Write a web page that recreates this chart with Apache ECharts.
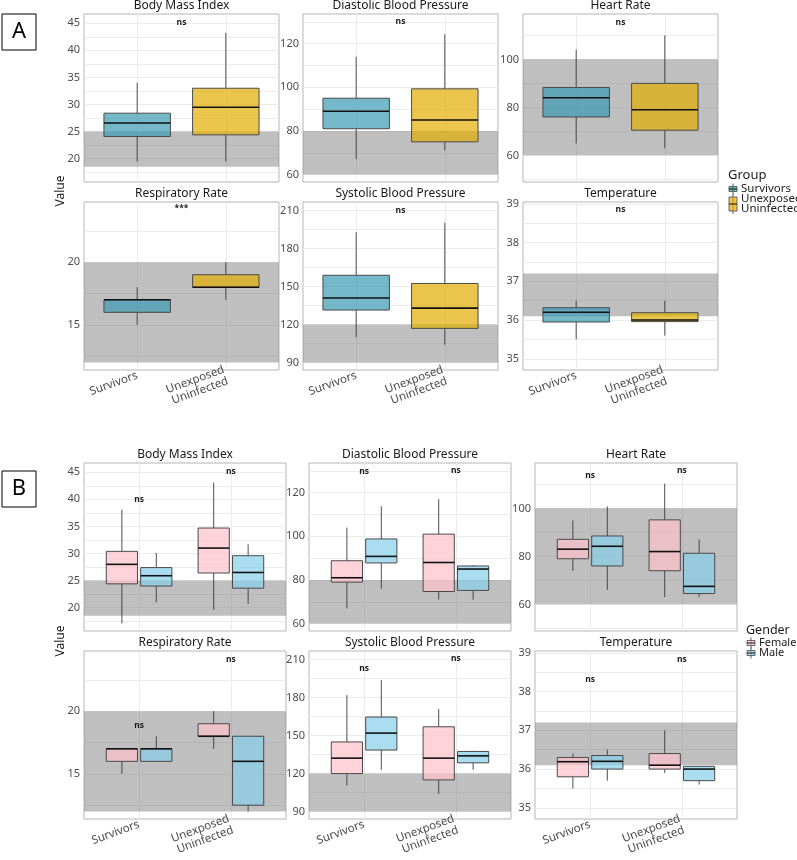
<!DOCTYPE html>
<html>
<head>
<meta charset="UTF-8">
<title>Vital signs by group and gender</title>
<script src="https://cdn.jsdelivr.net/npm/echarts@6/dist/echarts.min.js"></script>
<style>
    html, body { margin: 0; padding: 0; background: #fff; }
    #main { width: 797px; height: 860px; }
</style>
</head>
<body>
<div id="main"></div>
<script>
var groups = ['Survivors', 'Unexposed\nUninfected'];
var genders = ['Female', 'Male'];
var vitals = ['Body Mass Index', 'Diastolic Blood Pressure', 'Heart Rate',
    'Respiratory Rate', 'Systolic Blood Pressure', 'Temperature'];

// shaded normal range per vital
var normalRanges = [[18.5, 25], [60, 80], [60, 100], [12, 20], [90, 120], [36.1, 37.2]];
// y range per vital
var yRanges = [[15.7, 46.7], [56.6, 133.6], [48.9, 118.9], [11.4, 24.8], [84.1, 216.9], [34.71, 39.05]];
var yMajor = [[20, 25, 30, 35, 40, 45], [60, 80, 100, 120], [60, 80, 100], [15, 20],
    [90, 120, 150, 180, 210], [35, 36, 37, 38, 39]];
var yMinor = [[17.5, 22.5, 27.5, 32.5, 37.5, 42.5], [70, 90, 110, 130], [50, 70, 90, 110],
    [12.5, 17.5, 22.5], [105, 135, 165, 195], [35.5, 36.5, 37.5, 38.5]];

// A: [min, Q1, median, Q3, max]
var survivorsA = [
    [19.5, 24.1, 26.6, 28.4, 34.0],
    [67, 81, 89, 95, 114],
    [65, 76, 84, 88.3, 104],
    [15, 16, 17, 17, 18],
    [110, 131.5, 141, 159, 193],
    [35.5, 35.95, 36.2, 36.32, 36.5]
];
var unexposedA = [
    [19.5, 24.4, 29.5, 33, 43.2],
    [71, 75, 85, 99.3, 124.3],
    [63, 70.5, 79, 90, 110],
    [17, 18, 18, 19, 20],
    [104, 117, 133, 152.5, 200.5],
    [35.6, 35.96, 36.0, 36.19, 36.5]
];
var sigA = ['ns', 'ns', 'ns', '***', 'ns', 'ns'];
var sigAy = [45.2, 130, 115.5, 24.25, 210.2, 38.86];

// B: [min, Q1, median, Q3, max]
var femaleSurvB = [
    [17.1, 24.4, 28.0, 30.4, 38.1],
    [67, 79, 81, 88.8, 104],
    [74, 79, 83, 87.1, 95],
    [15, 16, 17, 17, 17],
    [110.6, 120, 132.2, 145, 182],
    [35.5, 35.8, 36.19, 36.3, 36.4]
];
var maleSurvB = [
    [21, 24, 25.9, 27.4, 30.1],
    [76, 87.8, 90.8, 98.8, 113.8],
    [66, 76, 84.2, 88.5, 100.8],
    [16, 16, 17, 17, 18],
    [123, 138.6, 152, 164.7, 194],
    [35.7, 36.0, 36.2, 36.35, 36.5]
];
var femaleUnexpB = [
    [19.6, 26.4, 31, 34.7, 43.1],
    [71, 74.7, 88, 101, 117],
    [63, 74, 82, 95.2, 110.3],
    [17, 18, 18, 19, 20],
    [104, 115, 132.2, 157, 171],
    [35.9, 36.0, 36.1, 36.4, 37.0]
];
var maleUnexpB = [
    [20.7, 23.6, 26.5, 29.6, 31.7],
    [71, 75.2, 85, 86.4, 86.8],
    [63, 64.5, 67.5, 81.3, 87],
    [12, 12.5, 16, 18, 18],
    [123, 128.5, 134, 137.5, 138],
    [35.6, 35.7, 36.0, 36.07, 36.08]
];
var sigBSurvY = [39.9, 129.5, 113.5, 18.86, 203.4, 38.31];
var sigBUnexpY = [45.2, 130.2, 115.7, 24.1, 210.8, 38.84];

var groupColors = ['rgba(59,154,178,0.7)', 'rgba(225,175,0,0.7)'];
var genderColors = ['rgba(255,192,203,0.7)', 'rgba(135,206,235,0.7)'];

var FONT = 'Noto Sans';
var layoutA = { lefts: [84, 303, 523], width: 195, tops: [14, 202], height: 168 };
var layoutB = { lefts: [84, 309, 535], width: 202, tops: [463, 651], height: 168 };

var grids = [], xAxes = [], yAxes = [], series = [], graphics = [];

function boxRenderer(width, color) {
    return function (params, api) {
        var x = api.value(0);
        var lo = api.coord([x, api.value(1)]);
        var q1 = api.coord([x, api.value(2)]);
        var md = api.coord([x, api.value(3)]);
        var q3 = api.coord([x, api.value(4)]);
        var hi = api.coord([x, api.value(5)]);
        var w = api.size([width, 0])[0];
        var cx = md[0];
        var edge = { stroke: '#3a3a3a', lineWidth: 0.9 };
        return {
            type: 'group',
            children: [
                { type: 'line', shape: { x1: cx, y1: hi[1], x2: cx, y2: q3[1] }, style: edge },
                { type: 'line', shape: { x1: cx, y1: q1[1], x2: cx, y2: lo[1] }, style: edge },
                {
                    type: 'rect',
                    shape: { x: cx - w / 2, y: q3[1], width: w, height: Math.max(q1[1] - q3[1], 0.5) },
                    style: { fill: color, stroke: '#4a4a4a', lineWidth: 1 }
                },
                { type: 'line', shape: { x1: cx - w / 2, y1: md[1], x2: cx + w / 2, y2: md[1] },
                  style: { stroke: '#111', lineWidth: 1.6 } }
            ]
        };
    };
}

function bandRenderer(params, api) {
    var cs = params.coordSys;
    var top = api.coord([1, api.value(1)])[1];
    var bottom = api.coord([1, api.value(0)])[1];
    return {
        type: 'rect',
        shape: { x: cs.x, y: top, width: cs.width, height: bottom - top },
        style: { fill: 'rgba(127,127,127,0.5)' }
    };
}

function textRenderer(labels) {
    return function (params, api) {
        var p = api.coord([api.value(0), api.value(1)]);
        return {
            type: 'text',
            style: {
                text: labels[params.dataIndex], x: p[0], y: p[1],
                align: 'center', verticalAlign: 'middle',
                font: 'bold 8.5px "' + FONT + '"', fill: '#1a1a1a'
            }
        };
    };
}

function addPanel(k, layout, boxes, sigs) {
    var row = Math.floor(k / 3), col = k % 3;
    var idx = grids.length;
    var left = layout.lefts[col], top = layout.tops[row];
    grids.push({
        left: left, top: top, width: layout.width, height: layout.height,
        show: true, borderColor: '#b5b5b5', borderWidth: 1
    });
    xAxes.push({
        gridIndex: idx, type: 'value', min: 0.4, max: 2.6,
        axisLine: { show: false },
        axisTick: { show: false, customValues: [1, 2] },
        axisLabel: {
            show: row === 1, customValues: [1, 2], rotate: 20, margin: 5,
            fontFamily: FONT, fontSize: 11.5, color: '#4d4d4d', lineHeight: 12,
            formatter: function (v) { return groups[Math.round(v) - 1]; }
        },
        splitLine: { show: true, lineStyle: { color: '#ebebeb', width: 1 } }
    });
    yAxes.push({
        gridIndex: idx, type: 'value', min: yRanges[k][0], max: yRanges[k][1],
        axisLine: { show: false },
        axisTick: { show: false, customValues: yMajor[k].concat(yMinor[k]) },
        axisLabel: {
            customValues: yMajor[k], margin: 4,
            fontFamily: FONT, fontSize: 11, color: '#4d4d4d'
        },
        splitLine: { show: true, lineStyle: { color: '#ebebeb', width: 1 } }
    });
    series.push({
        type: 'custom', xAxisIndex: idx, yAxisIndex: idx, z: 1, silent: true,
        renderItem: bandRenderer, encode: { y: [0, 1] },
        data: [normalRanges[k]]
    });
    boxes.forEach(function (b) {
        series.push({
            type: 'custom', xAxisIndex: idx, yAxisIndex: idx, z: 2, silent: true,
            renderItem: boxRenderer(b.width, b.color),
            encode: { x: 0, y: [1, 2, 3, 4, 5] },
            data: [[b.x].concat(b.values)]
        });
    });
    series.push({
        type: 'custom', xAxisIndex: idx, yAxisIndex: idx, z: 3, silent: true,
        renderItem: textRenderer(sigs.map(function (s) { return s.text; })),
        encode: { x: 0, y: 1 },
        data: sigs.map(function (s) { return [s.x, s.y]; })
    });
    graphics.push({
        type: 'text', x: left + layout.width / 2, y: top - 8,
        style: { text: vitals[k], align: 'center', verticalAlign: 'middle',
                 font: '12px "' + FONT + '"', fill: '#1a1a1a' }
    });
}

for (var k = 0; k < vitals.length; k++) {
    addPanel(k, layoutA, [
        { x: 1, width: 0.75, color: groupColors[0], values: survivorsA[k] },
        { x: 2, width: 0.75, color: groupColors[1], values: unexposedA[k] }
    ], [{ x: 1.5, y: sigAy[k], text: sigA[k] }]);
}
for (var k = 0; k < vitals.length; k++) {
    addPanel(k, layoutB, [
        { x: 0.8125, width: 0.34, color: genderColors[0], values: femaleSurvB[k] },
        { x: 1.1875, width: 0.34, color: genderColors[1], values: maleSurvB[k] },
        { x: 1.8125, width: 0.34, color: genderColors[0], values: femaleUnexpB[k] },
        { x: 2.1875, width: 0.34, color: genderColors[1], values: maleUnexpB[k] }
    ], [{ x: 1, y: sigBSurvY[k], text: 'ns' }, { x: 2, y: sigBUnexpY[k], text: 'ns' }]);
}

// section tags and y titles
function addTag(letter, y) {
    graphics.push({ type: 'rect', shape: { x: 2, y: y, width: 34, height: 36 },
        style: { fill: '#fff', stroke: '#000', lineWidth: 1 } });
    graphics.push({ type: 'text', x: 19, y: y + 18,
        style: { text: letter, align: 'center', verticalAlign: 'middle',
                 font: '22px "' + FONT + '"', fill: '#000' } });
}
addTag('A', 14);
addTag('B', 471);
[191, 641].forEach(function (cy) {
    graphics.push({ type: 'text', x: 61, y: cy, rotation: Math.PI / 2,
        style: { text: 'Value', align: 'center', verticalAlign: 'middle',
                 font: '12px "' + FONT + '"', fill: '#1a1a1a' } });
});

// legends
function legendKey(x, y, h, color) {
    graphics.push({ type: 'line', shape: { x1: x + 4, y1: y - h / 2 - 3, x2: x + 4, y2: y + h / 2 + 3 },
        style: { stroke: '#3a3a3a', lineWidth: 0.8 } });
    graphics.push({ type: 'rect', shape: { x: x, y: y - h / 2, width: 8, height: h },
        style: { fill: color, stroke: '#4a4a4a', lineWidth: 0.8 } });
    graphics.push({ type: 'line', shape: { x1: x, y1: y, x2: x + 8, y2: y },
        style: { stroke: '#111', lineWidth: 1 } });
}
function addLegend(title, x, y, names, colors, ys, hs, fs) {
    graphics.push({ type: 'text', x: x, y: y,
        style: { text: title, verticalAlign: 'middle', font: (fs + 1.5) + 'px "' + FONT + '"', fill: '#1a1a1a' } });
    names.forEach(function (n, i) {
        legendKey(x + 1, ys[i], hs[i], colors[i]);
        var lines = n.split('\n');
        var y0 = ys[i] - (lines.length - 1) * 5;
        lines.forEach(function (ln, j) {
            graphics.push({ type: 'text', x: x + 13, y: y0 + j * 10,
                style: { text: ln, verticalAlign: 'middle',
                         font: fs + 'px "' + FONT + '"', fill: '#1a1a1a' } });
        });
    });
}
addLegend('Group', 728, 175.5, groups, groupColors, [189, 204], [5, 14], 11.5);
addLegend('Gender', 746, 630, genders, genderColors, [643, 653], [5, 5], 11);

var myChart = echarts.init(document.getElementById('main'), null, { renderer: 'canvas' });
myChart.setOption({
    animation: false,
    backgroundColor: '#fff',
    grid: grids,
    xAxis: xAxes,
    yAxis: yAxes,
    series: series,
    graphic: graphics
});
</script>
</body>
</html>
